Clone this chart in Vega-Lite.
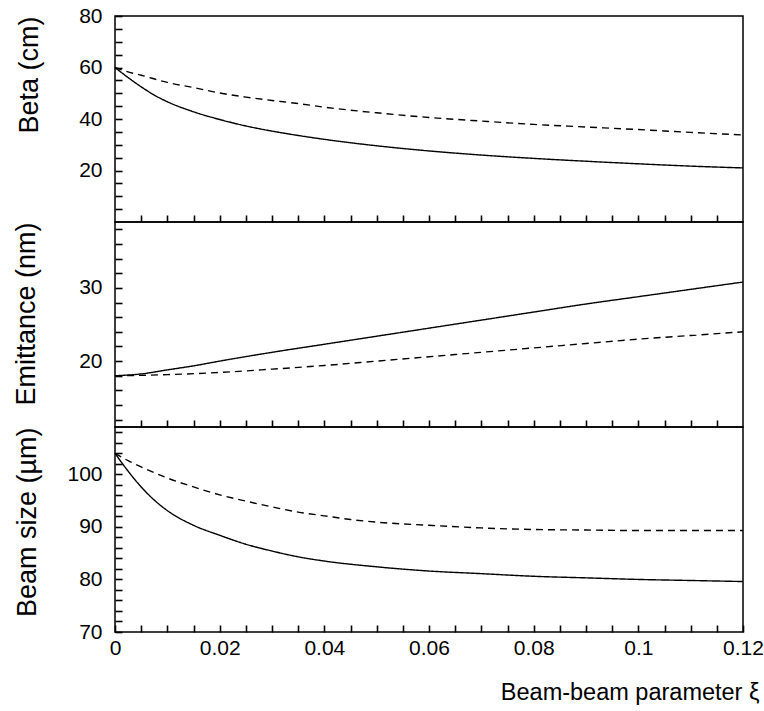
{
  "$schema": "https://vega.github.io/schema/vega-lite/v6.json",
  "padding": {"left": 11, "top": 4, "right": 0, "bottom": 0},
  "background": "white",
  "spacing": 0,
  "bounds": "flush",
  "config": {
    "font": "Liberation Sans",
    "view": {"stroke": "black", "strokeWidth": 1.5},
    "axis": {
      "zindex": 1,
      "domain": false, "grid": false,
      "ticks": true, "tickColor": "black", "tickWidth": 1.6, "tickSize": 7,
      "labelColor": "black", "titleColor": "black",
      "labelFont": "Liberation Sans", "titleFont": "Liberation Sans",
      "labelFontSize": 21, "titleFontWeight": "normal",
      "labelFlush": false, "labelOverlap": false
    }
  },
  "datasets": {
    "beta": [
      {"xi": 0, "v": 60, "s": "a"}, {"xi": 0.0025, "v": 56.1, "s": "a"}, {"xi": 0.005, "v": 52.5, "s": "a"}, {"xi": 0.0075, "v": 49.3, "s": "a"},
      {"xi": 0.01, "v": 46.7, "s": "a"}, {"xi": 0.015, "v": 42.8, "s": "a"}, {"xi": 0.02, "v": 39.8, "s": "a"}, {"xi": 0.025, "v": 37.3, "s": "a"},
      {"xi": 0.03, "v": 35.3, "s": "a"}, {"xi": 0.035, "v": 33.6, "s": "a"}, {"xi": 0.04, "v": 32.1, "s": "a"}, {"xi": 0.05, "v": 29.6, "s": "a"},
      {"xi": 0.06, "v": 27.6, "s": "a"}, {"xi": 0.07, "v": 26.0, "s": "a"}, {"xi": 0.08, "v": 24.7, "s": "a"}, {"xi": 0.09, "v": 23.6, "s": "a"},
      {"xi": 0.1, "v": 22.6, "s": "a"}, {"xi": 0.11, "v": 21.7, "s": "a"}, {"xi": 0.12, "v": 21.0, "s": "a"},
      {"xi": 0, "v": 60, "s": "b"}, {"xi": 0.0025, "v": 58.3, "s": "b"}, {"xi": 0.005, "v": 57.0, "s": "b"}, {"xi": 0.01, "v": 54.2, "s": "b"},
      {"xi": 0.015, "v": 52.2, "s": "b"}, {"xi": 0.02, "v": 50.1, "s": "b"}, {"xi": 0.025, "v": 48.5, "s": "b"}, {"xi": 0.03, "v": 47.2, "s": "b"},
      {"xi": 0.035, "v": 46.0, "s": "b"}, {"xi": 0.04, "v": 44.6, "s": "b"}, {"xi": 0.05, "v": 42.4, "s": "b"}, {"xi": 0.06, "v": 40.6, "s": "b"},
      {"xi": 0.07, "v": 39.2, "s": "b"}, {"xi": 0.08, "v": 37.9, "s": "b"}, {"xi": 0.09, "v": 36.9, "s": "b"}, {"xi": 0.1, "v": 35.9, "s": "b"},
      {"xi": 0.11, "v": 34.8, "s": "b"}, {"xi": 0.12, "v": 33.8, "s": "b"}
    ],
    "emit": [
      {"xi": 0, "v": 18, "s": "a"}, {"xi": 0.005, "v": 18.25, "s": "a"}, {"xi": 0.01, "v": 18.8, "s": "a"}, {"xi": 0.015, "v": 19.35, "s": "a"},
      {"xi": 0.02, "v": 20.0, "s": "a"}, {"xi": 0.03, "v": 21.2, "s": "a"}, {"xi": 0.04, "v": 22.3, "s": "a"}, {"xi": 0.05, "v": 23.4, "s": "a"},
      {"xi": 0.06, "v": 24.5, "s": "a"}, {"xi": 0.07, "v": 25.6, "s": "a"}, {"xi": 0.08, "v": 26.7, "s": "a"}, {"xi": 0.09, "v": 27.8, "s": "a"},
      {"xi": 0.1, "v": 28.8, "s": "a"}, {"xi": 0.11, "v": 29.8, "s": "a"}, {"xi": 0.12, "v": 30.8, "s": "a"},
      {"xi": 0, "v": 18, "s": "b"}, {"xi": 0.01, "v": 18.15, "s": "b"}, {"xi": 0.02, "v": 18.45, "s": "b"}, {"xi": 0.03, "v": 18.9, "s": "b"},
      {"xi": 0.04, "v": 19.4, "s": "b"}, {"xi": 0.05, "v": 20.0, "s": "b"}, {"xi": 0.06, "v": 20.6, "s": "b"}, {"xi": 0.07, "v": 21.2, "s": "b"},
      {"xi": 0.08, "v": 21.8, "s": "b"}, {"xi": 0.09, "v": 22.4, "s": "b"}, {"xi": 0.1, "v": 23.0, "s": "b"}, {"xi": 0.11, "v": 23.5, "s": "b"},
      {"xi": 0.12, "v": 24.0, "s": "b"}
    ],
    "size": [
      {"xi": 0, "v": 104, "s": "a"}, {"xi": 0.0025, "v": 100.6, "s": "a"}, {"xi": 0.005, "v": 97.6, "s": "a"}, {"xi": 0.0075, "v": 95.1, "s": "a"},
      {"xi": 0.01, "v": 93.1, "s": "a"}, {"xi": 0.015, "v": 90.3, "s": "a"}, {"xi": 0.02, "v": 88.4, "s": "a"}, {"xi": 0.025, "v": 86.7, "s": "a"},
      {"xi": 0.03, "v": 85.4, "s": "a"}, {"xi": 0.035, "v": 84.3, "s": "a"}, {"xi": 0.04, "v": 83.5, "s": "a"}, {"xi": 0.05, "v": 82.4, "s": "a"},
      {"xi": 0.06, "v": 81.6, "s": "a"}, {"xi": 0.07, "v": 81.1, "s": "a"}, {"xi": 0.08, "v": 80.6, "s": "a"}, {"xi": 0.09, "v": 80.3, "s": "a"},
      {"xi": 0.1, "v": 80.0, "s": "a"}, {"xi": 0.11, "v": 79.8, "s": "a"}, {"xi": 0.12, "v": 79.6, "s": "a"},
      {"xi": 0, "v": 104, "s": "b"}, {"xi": 0.0025, "v": 102.6, "s": "b"}, {"xi": 0.005, "v": 101.4, "s": "b"}, {"xi": 0.01, "v": 99.3, "s": "b"},
      {"xi": 0.015, "v": 97.6, "s": "b"}, {"xi": 0.02, "v": 96.1, "s": "b"}, {"xi": 0.025, "v": 94.9, "s": "b"}, {"xi": 0.03, "v": 93.8, "s": "b"},
      {"xi": 0.035, "v": 92.8, "s": "b"}, {"xi": 0.04, "v": 92.1, "s": "b"}, {"xi": 0.045, "v": 91.4, "s": "b"}, {"xi": 0.05, "v": 90.9, "s": "b"},
      {"xi": 0.06, "v": 90.3, "s": "b"}, {"xi": 0.07, "v": 89.8, "s": "b"}, {"xi": 0.08, "v": 89.5, "s": "b"}, {"xi": 0.09, "v": 89.4, "s": "b"},
      {"xi": 0.1, "v": 89.3, "s": "b"}, {"xi": 0.11, "v": 89.3, "s": "b"}, {"xi": 0.12, "v": 89.3, "s": "b"}
    ]
  },
  "vconcat": [
    {
      "data": {"name": "beta"},
      "width": 628, "height": 206,
      "mark": {"type": "line", "color": "black", "strokeWidth": 1.4, "interpolate": "monotone"},
      "encoding": {
        "x": {"field": "xi", "type": "quantitative", "scale": {"domain": [0, 0.12], "nice": false},
          "axis": {"orient": "bottom", "title": null, "labels": false,
            "ticks": true, "tickColor": "black", "tickWidth": 1.6, "tickSize": 7, "offset": -7,
            "values": [0.005,0.01,0.015,0.02,0.025,0.03,0.035,0.04,0.045,0.05,0.055,0.06,0.065,0.07,0.075,0.08,0.085,0.09,0.095,0.1,0.105,0.11,0.115]}},
        "y": {"field": "v", "type": "quantitative", "scale": {"domain": [0, 80], "nice": false, "zero": false},
          "axis": {"orient": "left", "title": "Beta (cm)", "titleFontSize": 27, "titleAnchor": "end", "titlePadding": 35,
            "ticks": true, "tickColor": "black", "tickWidth": 1.6, "tickSize": 7, "offset": -7,
            "values": [5,10,15,20,25,30,35,40,45,50,55,60,65,70,75,80],
            "labelExpr": "datum.value % 20 === 0 ? datum.label : ''",
            "labelPadding": 13}},
        "strokeDash": {"field": "s", "type": "nominal", "scale": {"domain": ["a", "b"], "range": [[1, 0], [7, 5]]}, "legend": null}
      }
    },
    {
      "data": {"name": "emit"},
      "width": 628, "height": 205,
      "mark": {"type": "line", "color": "black", "strokeWidth": 1.4, "interpolate": "monotone"},
      "encoding": {
        "x": {"field": "xi", "type": "quantitative", "scale": {"domain": [0, 0.12], "nice": false},
          "axis": {"orient": "bottom", "title": null, "labels": false,
            "ticks": true, "tickColor": "black", "tickWidth": 1.6, "tickSize": 7, "offset": -7,
            "values": [0.005,0.01,0.015,0.02,0.025,0.03,0.035,0.04,0.045,0.05,0.055,0.06,0.065,0.07,0.075,0.08,0.085,0.09,0.095,0.1,0.105,0.11,0.115]}},
        "y": {"field": "v", "type": "quantitative", "scale": {"domain": [11, 39], "nice": false, "zero": false},
          "axis": {"orient": "left", "title": "Emittance (nm)", "titleFontSize": 27, "titleAnchor": "end", "titlePadding": 38,
            "ticks": true, "tickColor": "black", "tickWidth": 1.6, "tickSize": 7, "offset": -7,
            "values": [12,14,16,18,20,22,24,26,28,30,32,34,36,38],
            "labelExpr": "datum.value % 10 === 0 ? datum.label : ''",
            "labelPadding": 13}},
        "strokeDash": {"field": "s", "type": "nominal", "scale": {"domain": ["a", "b"], "range": [[1, 0], [7, 5]]}, "legend": null}
      }
    },
    {
      "data": {"name": "size"},
      "width": 628, "height": 205,
      "mark": {"type": "line", "color": "black", "strokeWidth": 1.4, "interpolate": "monotone"},
      "encoding": {
        "x": {"field": "xi", "type": "quantitative", "scale": {"domain": [0, 0.12], "nice": false},
          "axis": {"orient": "bottom", "title": "Beam-beam parameter ξ", "titleFontSize": 23.5, "titleAnchor": "end", "titleAlign": "right", "titleX": 644, "titlePadding": 22,
            "ticks": true, "tickColor": "black", "tickWidth": 1.6, "tickSize": 7, "offset": -7,
            "values": [0,0.005,0.01,0.015,0.02,0.025,0.03,0.035,0.04,0.045,0.05,0.055,0.06,0.065,0.07,0.075,0.08,0.085,0.09,0.095,0.1,0.105,0.11,0.115,0.12],
            "labelExpr": "round(datum.value*1000) % 20 === 0 ? format(datum.value, '.2~f') : ''",
            "labelPadding": 5}},
        "y": {"field": "v", "type": "quantitative", "scale": {"domain": [70, 109], "nice": false, "zero": false},
          "axis": {"orient": "left", "title": "Beam size (µm)", "titleFontSize": 27, "titleAnchor": "end", "titlePadding": 25,
            "ticks": true, "tickColor": "black", "tickWidth": 1.6, "tickSize": 7, "offset": -7,
            "values": [70,72,74,76,78,80,82,84,86,88,90,92,94,96,98,100,102,104,106,108],
            "labelExpr": "datum.value % 10 === 0 ? datum.label : ''",
            "labelPadding": 13}},
        "strokeDash": {"field": "s", "type": "nominal", "scale": {"domain": ["a", "b"], "range": [[1, 0], [7, 5]]}, "legend": null}
      }
    }
  ]
}
